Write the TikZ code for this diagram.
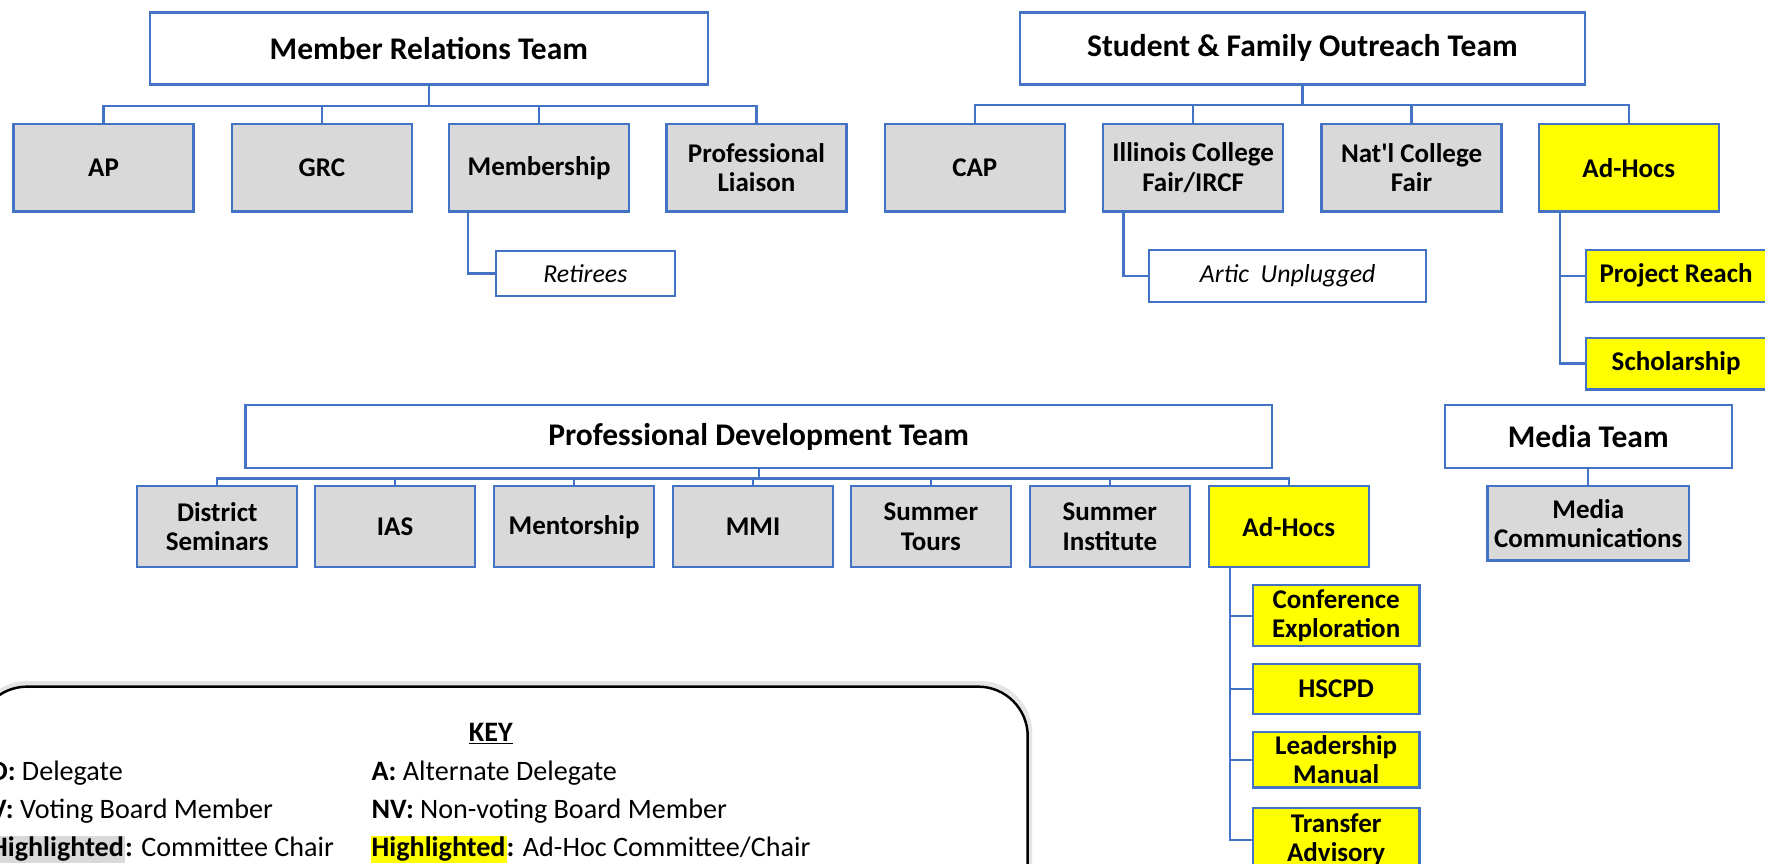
\documentclass[tikz,border=0pt]{standalone}
\usepackage{fontspec}
\setmainfont{Carlito}
\usepackage{xcolor}
\definecolor{boxblue}{HTML}{4472C4}
\definecolor{boxgray}{HTML}{D9D9D9}
\definecolor{boxyellow}{HTML}{FFFF00}
\tikzset{
	team/.style={draw=boxblue, line width=2pt, fill=white, inner sep=0pt,
		font=\bfseries\fontsize{28}{32}\selectfont},
	unit/.style={draw=boxblue, line width=2pt, fill=boxgray, inner sep=0pt, align=center,
		font=\bfseries\fontsize{24}{26}\selectfont},
	adhoc/.style={unit, fill=boxyellow},
	subunit/.style={draw=boxblue, line width=2pt, fill=white, inner sep=0pt,
		font=\itshape\fontsize{23}{26}\selectfont},
	conn/.style={draw=boxblue, line width=2pt},
}
\begin{document}
\begin{tikzpicture}[x=1pt, y=-1pt]
			\clip (0,0) rectangle (1568,767);
			\fill[white] (0,0) rectangle (1568,767);
			% top teams
			\node[team, minimum width=496, minimum height=64] (mrt) at (381,43) {Member Relations Team};
			\node[team, minimum width=502, minimum height=64] (sfot) at (1157,43) {Student \& Family Outreach Team};
			\foreach \n/\x/\t in {ap/92/AP, grc/286/GRC, memb/479/Membership, liaison/672/{Professional\\Liaison}}{
				\node[unit, minimum width=160, minimum height=78] (\n) at (\x,149) {\t};
				\draw[conn] (mrt.south) -- ++(0,18) -| (\n.north);
			}
			\foreach \n/\x/\t in {cap/866/CAP, icf/1060/{Illinois College\\Fair/IRCF}, ncf/1254/{Nat\textquotesingle l College\\Fair}}{
				\node[unit, minimum width=160, minimum height=78] (\n) at (\x,149) {\t};
				\draw[conn] (sfot.south) -- ++(0,17) -| (\n.north);
			}
			\node[adhoc, minimum width=160, minimum height=78] (sfadhoc) at (1447,149) {Ad-Hocs};
			\draw[conn] (sfot.south) -- ++(0,17) -| (sfadhoc.north);
			% sub units
			\node[subunit, minimum width=159, minimum height=40] (retirees) at (520,243) {Retirees};
			\draw[conn] ([xshift=-63pt]memb.south) |- (retirees.west);
			\node[subunit, minimum width=246, minimum height=46] (artic) at (1144,245) {Artic\ \ Unplugged};
			\draw[conn] ([xshift=-62pt]icf.south) |- (artic.west);
			\foreach \n/\y/\t in {reach/245/Project Reach, scholar/323/Scholarship}{
				\node[adhoc, minimum width=160, minimum height=46] (\n) at (1489,\y) {\t};
				\draw[conn] ([xshift=-61pt]sfadhoc.south) |- (\n.west);
			}
			% professional development
			\node[team, minimum width=912, minimum height=56] (pdt) at (674,388) {Professional Development Team};
			\foreach \n/\x/\t in {district/193/{District\\Seminars}, ias/351/IAS, mentor/510/Mentorship, mmi/669/MMI,
				tours/827/{Summer\\Tours}, institute/986/{Summer\\Institute}}{
				\node[unit, minimum width=142, minimum height=72] (\n) at (\x,468) {\t};
				\draw[conn] (pdt.south) -- ++(0,8) -| (\n.north);
			}
			\node[adhoc, minimum width=142, minimum height=72] (pdadhoc) at (1145,468) {Ad-Hocs};
			\draw[conn] (pdt.south) -- ++(0,8) -| (pdadhoc.north);
			\foreach \n/\y/\h/\t in {confex/547/54/{Conference\\Exploration}, hscpd/612/44/HSCPD,
				leader/675/49/{Leadership\\Manual}, transfer/746/56/{Transfer\\Advisory}}{
				\node[adhoc, minimum width=148, minimum height=\h] (\n) at (1187,\y) {\t};
				\draw[conn] ([xshift=-52pt]pdadhoc.south) |- (\n.west);
			}
			% media
			\node[team, minimum width=255, minimum height=56] (media) at (1411,388) {Media Team};
			\node[unit, minimum width=179, minimum height=66] (mediacom) at (1411,465) {Media\\Communications};
			\draw[conn] (media.south) -- (mediacom.north);
			% key
			\draw[black!10, line width=4pt, rounded corners=44pt] (-20,900) -- (-20,607) -- (915,607) -- (915,900);
			\draw[black, line width=2.2pt, rounded corners=44pt] (-20,900) -- (-20,610) -- (913,610) -- (913,900);
			\begin{scope}[every node/.style={font=\fontsize{25}{27}\selectfont, inner sep=0pt, anchor=base west}]
				\setlength{\fboxsep}{1pt}
				\node (keytitle) at (436,659) [anchor=base] {\textbf{\underline{KEY}}};
				\node (kd) at (-9,693) {\textbf{D:} Delegate};
				\node (ka) at (330,693) {\textbf{A:} Alternate Delegate};
				\node (kv) at (-9,727) {\textbf{V:} Voting Board Member};
				\node (knv) at (330,727) {\textbf{NV:} Non-voting Board Member};
				\node (kgray) at (-10,761) {\colorbox{boxgray}{\textbf{Highlighted}}\textbf{:} Committee Chair};
				\node (kyel) at (329,761) {\colorbox{boxyellow}{\textbf{Highlighted}}\textbf{:} Ad-Hoc Committee/Chair};
			\end{scope}
		\end{tikzpicture}
\end{document}
